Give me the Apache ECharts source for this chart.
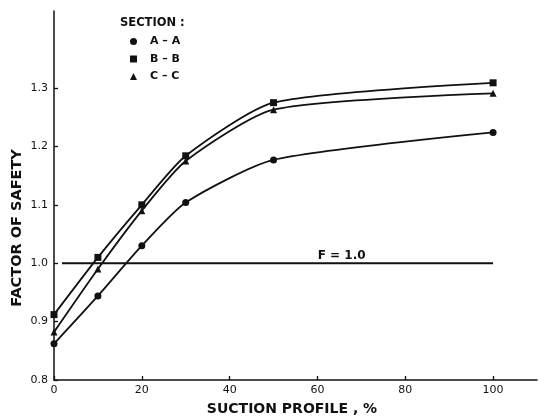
<!DOCTYPE html>
<html>
<head>
<meta charset="utf-8">
<script src="https://cdn.jsdelivr.net/npm/echarts@6/dist/echarts.min.js"></script>
<style>
  html, body { margin: 0; padding: 0; background: #fff; }
  #chart { width: 550px; height: 417px; }
</style>
</head>
<body>
<div id="chart"></div>
<script>
// Suction profile (%) at which each section was analysed
const suction = [0, 10, 20, 30, 50, 100];

// Factor of safety for each section
const sectionAA = [0.862, 0.944, 1.030, 1.104, 1.177, 1.224];
const sectionBB = [0.912, 1.010, 1.100, 1.184, 1.275, 1.309];
const sectionCC = [0.882, 0.990, 1.090, 1.175, 1.263, 1.291];

// Reference line F = 1.0
const refX = [1.8, 65.5, 100];
const refF = 1.0;

const xTicks = [0, 20, 40, 60, 80, 100];
const yTicks = [0.8, 0.9, 1.0, 1.1, 1.2, 1.3];

const ink = '#111';
const font = 'DejaVu Sans';

function pairs(xs, ys) { return xs.map((x, i) => [x, ys[i]]); }

function sectionSeries(name, ys, symbol, size) {
  return {
    name: name,
    type: 'line',
    data: pairs(suction, ys),
    smooth: 0.22,
    symbol: symbol,
    symbolSize: size,
    showAllSymbol: true,
    lineStyle: { color: ink, width: 1.8 },
    itemStyle: { color: ink },
    emphasis: { disabled: true },
    z: 3
  };
}

const chart = echarts.init(document.getElementById('chart'), null, { renderer: 'canvas' });

chart.setOption({
  animation: false,
  backgroundColor: '#fff',
  textStyle: { fontFamily: font, color: ink },
  grid: { left: 54, right: 13, top: 11, bottom: 37, containLabel: false },
  title: {
    text: 'SECTION :',
    left: 120, top: 17, padding: 0,
    textStyle: { fontFamily: font, fontSize: 11.5, fontWeight: 'bold', color: ink }
  },
  legend: {
    orient: 'vertical',
    left: 130, top: 36, padding: 0,
    itemWidth: 7, itemHeight: 7, itemGap: 6.5,
    textStyle: { fontFamily: font, fontSize: 11, fontWeight: 'bold', color: ink, padding: [0, 0, 0, 8] },
    data: [
      { name: 'A – A', icon: 'circle' },
      { name: 'B – B', icon: 'rect' },
      { name: 'C – C', icon: 'triangle' }
    ]
  },
  xAxis: {
    type: 'value',
    min: 0, max: 110,
    splitLine: { show: false },
    axisLine: { show: true, onZero: false, lineStyle: { color: ink, width: 1.5 } },
    axisTick: { show: true, inside: true, length: 4, customValues: xTicks, lineStyle: { color: ink, width: 1.3 } },
    axisLabel: { customValues: xTicks, fontFamily: font, fontSize: 11, color: ink, margin: 5 }
  },
  yAxis: {
    type: 'value',
    min: 0.8, max: 1.432,
    splitLine: { show: false },
    axisLine: { show: true, onZero: false, lineStyle: { color: ink, width: 1.5 } },
    axisTick: { show: true, inside: true, length: 4, customValues: yTicks, lineStyle: { color: ink, width: 1.3 } },
    axisLabel: {
      customValues: yTicks, fontFamily: font, fontSize: 11, color: ink, margin: 6,
      formatter: v => v.toFixed(1)
    }
  },
  graphic: [
    {
      type: 'text',
      x: 292, y: 409,
      style: { text: 'SUCTION PROFILE , %', font: 'bold 14px "DejaVu Sans"', fill: ink, align: 'center', verticalAlign: 'middle' }
    },
    {
      type: 'text',
      x: 17.5, y: 228, rotation: Math.PI / 2,
      style: { text: 'FACTOR OF SAFETY', font: 'bold 14.5px "DejaVu Sans"', fill: ink, align: 'center', verticalAlign: 'middle' }
    }
  ],
  series: [
    sectionSeries('A – A', sectionAA, 'circle', 7),
    sectionSeries('B – B', sectionBB, 'rect', 7),
    sectionSeries('C – C', sectionCC, 'triangle', 7),
    {
      name: 'F',
      type: 'line',
      data: refX.map((x, i) => ({
        value: [x, refF],
        label: i === 1 ? { show: true, formatter: 'F = 1.0', position: 'top', distance: 1,
          fontFamily: font, fontSize: 12, fontWeight: 'bold', color: ink } : { show: false }
      })),
      symbol: 'circle',
      symbolSize: 0,
      showSymbol: true,
      showAllSymbol: true,
      lineStyle: { color: ink, width: 1.8 },
      itemStyle: { color: ink },
      emphasis: { disabled: true },
      z: 2
    }
  ]
});
</script>
</body>
</html>
